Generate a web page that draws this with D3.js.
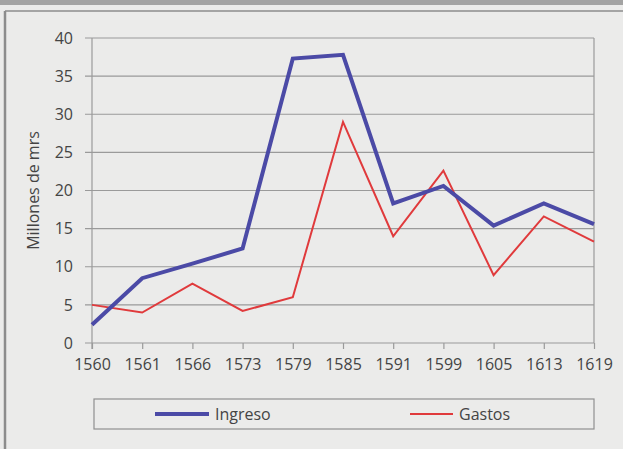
<!DOCTYPE html>
<html>
<head>
<meta charset="utf-8">
<script src="https://cdn.jsdelivr.net/npm/d3@7"></script>
<style>
  body { margin: 0; background: #ebebea; }
  svg { display: block; }
  .tick text { font-family: "Open Sans", sans-serif; font-size: 16px; fill: #444; }
</style>
</head>
<body>
<script>
//series data
var years = ["1560", "1561", "1566", "1573", "1579", "1585", "1591", "1599", "1605", "1613", "1619"];
var ingreso = [2.4, 8.5, 10.4, 12.4, 37.3, 37.8, 18.3, 20.6, 15.4, 18.3, 15.6];
var gastos = [5.0, 4.0, 7.8, 4.2, 6.0, 29.0, 14.0, 22.6, 8.9, 16.6, 13.3];
var yTicks = [0, 5, 10, 15, 20, 25, 30, 35, 40];

(function(){
  var width = 623, height = 449;
  //plot area edges (not "top": that clashes with window.top)
  var plotLeft = 92, plotRight = 594, plotTop = 38, plotBottom = 343;

  var svg = d3.select("body")
    .append("svg")
    .attr("width", width)
    .attr("height", height);

  //outer frame of the page
  svg.append("rect")
    .attr("x", 0).attr("y", 0)
    .attr("width", width).attr("height", 5)
    .style("fill", "#a3a3a3");
  svg.append("line")
    .attr("x1", 5).attr("x2", width)
    .attr("y1", 11).attr("y2", 11)
    .style("stroke", "#8c8c8c").style("stroke-width", 1.5);
  svg.append("line")
    .attr("x1", 5).attr("x2", 5)
    .attr("y1", 11).attr("y2", height)
    .style("stroke", "#8c8c8c").style("stroke-width", 2.5);

  var x = d3.scalePoint()
    .domain(years)
    .range([plotLeft, plotRight]);

  var y = d3.scaleLinear()
    .domain([0, 40])
    .range([plotBottom, plotTop]);

  //gridlines
  svg.append("g")
    .selectAll("line")
    .data(yTicks)
    .enter()
    .append("line")
    .attr("x1", plotLeft - 7)
    .attr("x2", plotRight)
    .attr("y1", function(d){ return y(d); })
    .attr("y2", function(d){ return y(d); })
    .style("stroke", "#9a9a9a")
    .style("stroke-width", 1.2);

  //plot frame sides
  svg.append("line")
    .attr("x1", plotLeft).attr("x2", plotLeft)
    .attr("y1", plotTop).attr("y2", plotBottom + 6)
    .style("stroke", "#9a9a9a").style("stroke-width", 1.2);
  svg.append("line")
    .attr("x1", plotRight).attr("x2", plotRight)
    .attr("y1", plotTop).attr("y2", plotBottom)
    .style("stroke", "#9a9a9a").style("stroke-width", 1.2);

  var yAxis = d3.axisLeft(y)
    .tickValues(yTicks)
    .tickSize(0)
    .tickPadding(19);
  svg.append("g")
    .attr("transform", "translate(" + plotLeft + ",0)")
    .call(yAxis)
    .call(function(g){ g.select(".domain").remove(); });

  var xAxis = d3.axisBottom(x)
    .tickSize(6)
    .tickPadding(10);
  var xg = svg.append("g")
    .attr("transform", "translate(0," + plotBottom + ")")
    .call(xAxis);
  xg.select(".domain").remove();
  xg.selectAll(".tick line").style("stroke", "#9a9a9a").style("stroke-width", 1.2);

  //axis title
  svg.append("text")
    .attr("transform", "translate(39," + ((plotTop + plotBottom) / 2) + ") rotate(-90)")
    .attr("text-anchor", "middle")
    .style("font-family", "Open Sans, sans-serif")
    .style("font-size", "16px")
    .style("fill", "#444")
    .text("Millones de mrs");

  var line = d3.line()
    .x(function(d, i){ return x(years[i]); })
    .y(function(d){ return y(d); });

  svg.append("path")
    .datum(gastos)
    .attr("d", line)
    .style("fill", "none")
    .style("stroke", "#e03a3c")
    .style("stroke-width", 2);

  svg.append("path")
    .datum(ingreso)
    .attr("d", line)
    .style("fill", "none")
    .style("stroke", "#4b4aa6")
    .style("stroke-width", 4);

  //legend
  var legend = svg.append("g");
  legend.append("rect")
    .attr("x", 94).attr("y", 399)
    .attr("width", 500).attr("height", 30)
    .style("fill", "none")
    .style("stroke", "#8f8f8f")
    .style("stroke-width", 1.2);

  var legendItems = [
    {name: "Ingreso", color: "#4b4aa6", w: 4, x1: 155, x2: 209},
    {name: "Gastos", color: "#e03a3c", w: 2, x1: 410, x2: 453}
  ];

  legendItems.forEach(function(d){
    legend.append("line")
      .attr("x1", d.x1).attr("x2", d.x2)
      .attr("y1", 414).attr("y2", 414)
      .style("stroke", d.color)
      .style("stroke-width", d.w);
    legend.append("text")
      .attr("x", d.x2 + 6)
      .attr("y", 420)
      .style("font-family", "Open Sans, sans-serif")
      .style("font-size", "16px")
      .style("fill", "#444")
      .text(d.name);
  });
})();
</script>
</body>
</html>
